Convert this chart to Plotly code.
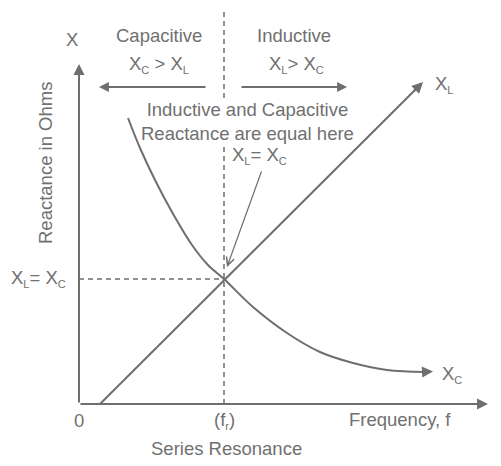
import plotly.graph_objects as go

# ---- data (units: arbitrary frequency / reactance scale) ----
xl_freq = [21, 344]
xl_vals = [0, 322]

xc_freq = [49, 61, 76, 93, 113, 129, 145, 174, 208, 241, 274, 308, 346]
xc_vals = [286, 256, 224, 192, 159, 139, 125, 97, 71, 52, 41, 34, 32]

f_res = 145          # resonance frequency
x_res = 125          # reactance at resonance
f_axis_max = 409     # x axis arrow tip
x_axis_max = 340     # y axis arrow tip
top_limit = 404

LINE = "#6e6e6e"
TXT = "#707070"
FONT = "Liberation Sans, Arial, sans-serif"
FS = 18.5

fig = go.Figure()

# dashed guides
fig.add_trace(go.Scatter(x=[f_res, f_res], y=[0, top_limit], mode="lines",
                         line=dict(color=LINE, width=1.5, dash="5px,4px"), hoverinfo="skip"))
fig.add_trace(go.Scatter(x=[0, f_res], y=[x_res, x_res], mode="lines",
                         line=dict(color=LINE, width=1.5, dash="5px,4px"), hoverinfo="skip"))

# XL and XC
fig.add_trace(go.Scatter(x=xl_freq[:1] + [xl_freq[1] - 4], y=xl_vals[:1] + [xl_vals[1] - 4], mode="lines",
                         line=dict(color=LINE, width=2), hoverinfo="skip"))
fig.add_trace(go.Scatter(x=xc_freq, y=xc_vals, mode="lines", line_shape="spline",
                         line=dict(color=LINE, width=2), hoverinfo="skip"))

annotations = []

def arrow(x0, y0, x1, y1, width=2, head=2, size=1.0):
    annotations.append(dict(x=x1, y=y1, ax=x0, ay=y0, xref="x", yref="y", axref="x", ayref="y",
                            text="", showarrow=True, arrowhead=head, arrowsize=size,
                            arrowwidth=width, arrowcolor=LINE))

# axes
arrow(0, 0, 0, x_axis_max, width=2, size=1.1)
arrow(0, 0, f_axis_max, 0, width=2, size=1.1)
# line-end arrowheads
arrow(xl_freq[1] - 10, xl_vals[1] - 10, xl_freq[1], xl_vals[1], width=2, size=1.1)
arrow(xc_freq[-1] - 4, xc_vals[-1], xc_freq[-1] + 8, xc_vals[-1] + 0.5, width=2, size=1.1)
# region arrows
arrow(128, 317, 20, 317, width=1.8, size=1.1)
arrow(161, 317, 268, 317, width=1.8, size=1.1)
# pointer to intersection
arrow(183, 234, f_res + 3, x_res + 12, width=1.2, head=5, size=1.3)

def sub(s):
    return '<sub><span style="font-size:11px">' + s + '</span></sub>'

def text(x, y, s, size=FS, xanchor="center", angle=0, bg=None):
    d = dict(x=x, y=y, xref="x", yref="y", text=s, showarrow=False, xanchor=xanchor,
             yanchor="middle", textangle=angle,
             font=dict(family=FONT, size=size, color=TXT))
    if bg:
        d.update(bgcolor=bg, borderpad=0)
    annotations.append(d)

text(-7, 365, "X")
text(80, 369, "Capacitive")
text(80, 340, "X" + sub("C") + " &gt; X" + sub("L"))
text(215, 369, "Inductive")
text(217, 340, "X" + sub("L") + "&gt; X" + sub("C"))
text(354, 320, "X" + sub("L"), xanchor="left")
text(168, 283, "Inductive and Capacitive<br>Reactance are equal here", bg="white")
text(180, 249, "X" + sub("L") + "= X" + sub("C"))
text(-41, 126, "X" + sub("L") + "= X" + sub("C"))
text(0, -16, "0")
text(f_res, -16, "(f" + sub("r") + ")")
text(321, -15, "Frequency, f")
text(147, -44, "Series Resonance")
text(-34, 241, "Reactance in Ohms", angle=-90)
text(361, 30, "X" + sub("C"), xanchor="left")

# page body has an 8px margin: shift the figure window accordingly
fig.update_layout(
    width=493, height=458,
    margin=dict(l=0, r=0, t=0, b=0),
    paper_bgcolor="white", plot_bgcolor="white",
    showlegend=False,
    xaxis=dict(range=[-71, 422], visible=False, fixedrange=True),
    yaxis=dict(range=[-62, 396], visible=False, fixedrange=True),
    annotations=annotations,
)

fig.write_html("out.html")
